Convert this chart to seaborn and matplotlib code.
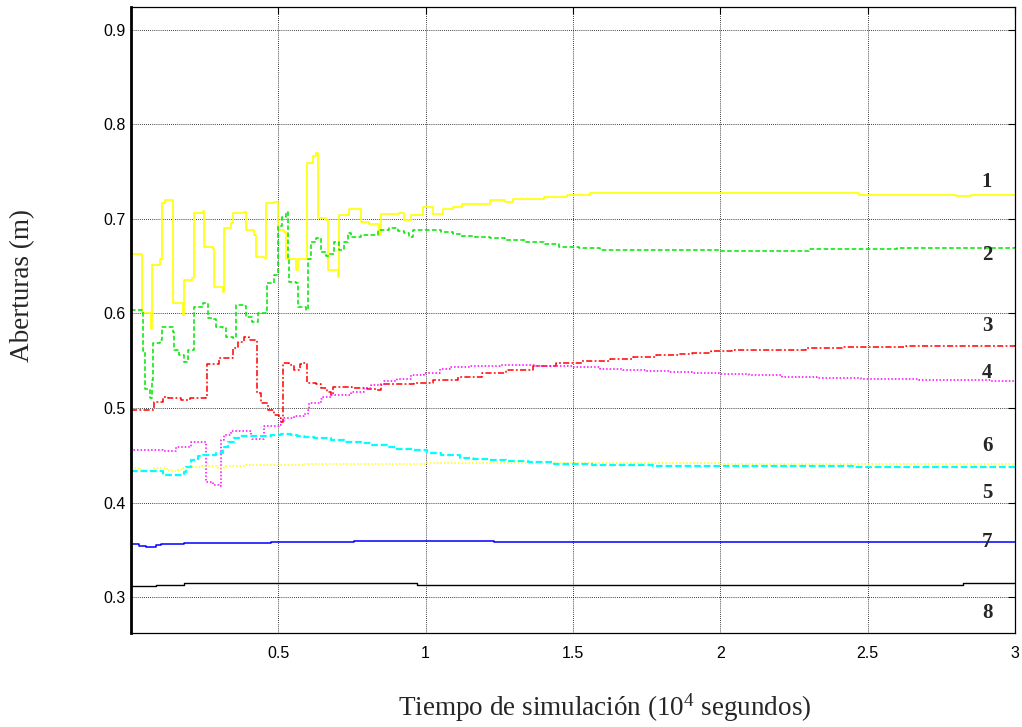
import matplotlib
matplotlib.use("Agg")
import matplotlib.pyplot as plt
import seaborn as sns
import numpy as np

# tiempo en unidades de 10^4 s, aberturas en m
x_1 = [0.000, 0.033, 0.036, 0.068, 0.071, 0.100, 0.106, 0.115, 0.136, 0.142, 0.176, 0.180,
       0.206, 0.213, 0.244, 0.247, 0.278, 0.281, 0.312, 0.315, 0.339, 0.345, 0.383, 0.390,
       0.417, 0.424, 0.451, 0.458, 0.485, 0.498, 0.519, 0.525, 0.559, 0.566, 0.593, 0.597,
       0.617, 0.627, 0.634, 0.661, 0.668, 0.702, 0.705, 0.739, 0.773, 0.780, 0.807, 0.841,
       0.847, 0.908, 0.925, 0.949, 0.976, 0.990, 1.010, 1.024, 1.051, 1.058, 1.092, 1.122,
       1.217, 1.268, 1.298, 1.403, 1.478, 1.556, 1.861, 2.470, 2.800, 2.850, 3.000]
y_1 = [0.663, 0.663, 0.600, 0.583, 0.651, 0.657, 0.717, 0.720, 0.720, 0.611, 0.598, 0.635,
       0.637, 0.706, 0.708, 0.670, 0.668, 0.628, 0.623, 0.690, 0.696, 0.706, 0.707, 0.688,
       0.683, 0.660, 0.659, 0.717, 0.718, 0.688, 0.686, 0.657, 0.646, 0.658, 0.658, 0.759,
       0.766, 0.770, 0.701, 0.699, 0.646, 0.639, 0.704, 0.710, 0.710, 0.697, 0.695, 0.683,
       0.705, 0.706, 0.699, 0.704, 0.704, 0.713, 0.713, 0.705, 0.705, 0.710, 0.713, 0.716,
       0.720, 0.718, 0.721, 0.723, 0.725, 0.727, 0.727, 0.725, 0.724, 0.725, 0.725]

x_2 = [0.000, 0.034, 0.040, 0.048, 0.064, 0.070, 0.075, 0.098, 0.105, 0.142, 0.146, 0.163,
       0.180, 0.193, 0.210, 0.214, 0.244, 0.261, 0.278, 0.288, 0.312, 0.322, 0.346, 0.356,
       0.383, 0.390, 0.410, 0.424, 0.432, 0.451, 0.461, 0.485, 0.498, 0.512, 0.525, 0.532,
       0.536, 0.559, 0.566, 0.593, 0.600, 0.610, 0.627, 0.644, 0.661, 0.671, 0.688, 0.702,
       0.705, 0.722, 0.736, 0.746, 0.780, 0.837, 0.875, 0.905, 0.925, 0.942, 0.956, 1.017,
       1.051, 1.092, 1.115, 1.166, 1.217, 1.268, 1.336, 1.400, 1.454, 1.520, 1.590, 1.800,
       2.000, 2.300, 2.600, 3.000]
y_2 = [0.604, 0.604, 0.560, 0.520, 0.511, 0.530, 0.569, 0.572, 0.586, 0.580, 0.561, 0.556,
       0.549, 0.561, 0.561, 0.607, 0.611, 0.595, 0.594, 0.586, 0.585, 0.575, 0.574, 0.609,
       0.608, 0.596, 0.591, 0.591, 0.600, 0.600, 0.632, 0.641, 0.692, 0.702, 0.707, 0.657,
       0.633, 0.632, 0.607, 0.604, 0.657, 0.675, 0.680, 0.665, 0.661, 0.663, 0.675, 0.675,
       0.667, 0.676, 0.685, 0.681, 0.683, 0.688, 0.690, 0.687, 0.685, 0.681, 0.688, 0.688,
       0.686, 0.684, 0.682, 0.681, 0.680, 0.678, 0.675, 0.673, 0.670, 0.669, 0.667, 0.667,
       0.666, 0.668, 0.669, 0.670]

x_3 = [0.000, 0.071, 0.078, 0.108, 0.125, 0.169, 0.180, 0.200, 0.254, 0.258, 0.298, 0.346,
       0.363, 0.383, 0.400, 0.424, 0.427, 0.441, 0.464, 0.485, 0.502, 0.508, 0.515, 0.536,
       0.552, 0.573, 0.583, 0.593, 0.597, 0.629, 0.644, 0.666, 0.680, 0.685, 0.750, 0.800,
       0.830, 0.848, 0.960, 1.014, 1.025, 1.109, 1.190, 1.274, 1.363, 1.443, 1.499, 1.532,
       1.624, 1.702, 1.783, 1.861, 1.905, 1.969, 2.041, 2.292, 2.414, 2.631, 2.889, 3.000]
y_3 = [0.498, 0.498, 0.506, 0.512, 0.511, 0.508, 0.508, 0.510, 0.512, 0.546, 0.553, 0.563,
       0.570, 0.575, 0.572, 0.572, 0.516, 0.505, 0.498, 0.493, 0.489, 0.485, 0.548, 0.545,
       0.540, 0.546, 0.548, 0.548, 0.526, 0.525, 0.521, 0.517, 0.514, 0.522, 0.521, 0.520,
       0.519, 0.525, 0.526, 0.526, 0.530, 0.533, 0.537, 0.540, 0.544, 0.547, 0.548, 0.550,
       0.552, 0.554, 0.556, 0.557, 0.558, 0.560, 0.561, 0.563, 0.564, 0.565, 0.566, 0.567]

x_4 = [0.000, 0.011, 0.107, 0.110, 0.147, 0.153, 0.198, 0.203, 0.249, 0.254, 0.277, 0.299,
       0.305, 0.316, 0.339, 0.401, 0.407, 0.412, 0.446, 0.452, 0.503, 0.508, 0.520, 0.554,
       0.588, 0.599, 0.605, 0.644, 0.653, 0.678, 0.746, 0.791, 0.814, 0.859, 0.904, 0.949,
       0.994, 1.047, 1.081, 1.149, 1.251, 1.376, 1.499, 1.590, 1.668, 1.749, 1.827, 1.905,
       1.997, 2.098, 2.210, 2.329, 2.478, 2.675, 2.919, 3.000]
y_4 = [0.457, 0.456, 0.456, 0.454, 0.454, 0.459, 0.459, 0.464, 0.464, 0.422, 0.419, 0.417,
       0.466, 0.471, 0.476, 0.476, 0.470, 0.467, 0.467, 0.481, 0.482, 0.486, 0.489, 0.492,
       0.494, 0.498, 0.505, 0.509, 0.512, 0.514, 0.517, 0.521, 0.524, 0.528, 0.531, 0.535,
       0.537, 0.541, 0.543, 0.544, 0.545, 0.544, 0.543, 0.541, 0.540, 0.539, 0.538, 0.537,
       0.536, 0.535, 0.533, 0.532, 0.531, 0.530, 0.529, 0.529]

x_5 = [0.000, 0.034, 0.051, 0.073, 0.079, 0.102, 0.119, 0.130, 0.147, 0.158, 0.169, 0.186,
       0.226, 0.237, 0.282, 0.294, 0.305, 0.316, 0.339, 0.384, 0.565, 0.588, 0.994, 1.006,
       1.500, 2.000, 3.000]
y_5 = [0.436, 0.434, 0.433, 0.433, 0.436, 0.437, 0.435, 0.433, 0.433, 0.434, 0.437, 0.438,
       0.438, 0.439, 0.439, 0.437, 0.437, 0.439, 0.439, 0.440, 0.440, 0.441, 0.441, 0.442,
       0.4415, 0.441, 0.441]

x_6 = [0.000, 0.102, 0.107, 0.169, 0.175, 0.181, 0.186, 0.203, 0.226, 0.243, 0.282, 0.288,
       0.299, 0.311, 0.328, 0.350, 0.367, 0.407, 0.452, 0.475, 0.508, 0.520, 0.542, 0.565,
       0.588, 0.621, 0.678, 0.723, 0.780, 0.814, 0.870, 0.904, 0.960, 1.006, 1.051, 1.115,
       1.159, 1.217, 1.274, 1.346, 1.437, 1.563, 1.770, 2.447, 2.450, 3.000]
y_6 = [0.433, 0.433, 0.429, 0.429, 0.430, 0.432, 0.438, 0.445, 0.449, 0.450, 0.450, 0.452,
       0.452, 0.459, 0.464, 0.468, 0.470, 0.470, 0.470, 0.471, 0.472, 0.472, 0.471, 0.470,
       0.469, 0.468, 0.466, 0.464, 0.463, 0.461, 0.459, 0.457, 0.456, 0.452, 0.450, 0.447,
       0.446, 0.445, 0.444, 0.443, 0.441, 0.440, 0.439, 0.439, 0.438, 0.438]

x_7 = [0.000, 0.028, 0.051, 0.077, 0.085, 0.102, 0.181, 0.328, 0.475, 0.757, 1.232, 3.000]
y_7 = [0.3557, 0.3540, 0.3526, 0.3526, 0.3550, 0.3561, 0.3568, 0.3575, 0.3586, 0.3596,
       0.3586, 0.3586]

x_8 = [0.000, 0.073, 0.085, 0.181, 0.966, 0.972, 2.820, 2.825, 3.000]
y_8 = [0.3116, 0.3116, 0.3127, 0.3144, 0.3144, 0.3127, 0.3127, 0.3144, 0.3144]

etiquetas = ["1", "2", "3", "4", "6", "5", "7", "8"]
etiq_y = [0.739, 0.662, 0.587, 0.537, 0.460, 0.410, 0.358, 0.283]
etiq_x = 2.905

x_ticks = [0.5, 1, 1.5, 2, 2.5, 3]
x_ticklabels = ["0.5", "1", "1.5", "2", "2.5", "3"]
y_ticks = [0.3, 0.4, 0.5, 0.6, 0.7, 0.8, 0.9]
y_ticklabels = ["0.3", "0.4", "0.5", "0.6", "0.7", "0.8", "0.9"]

sns.set_style("white")
plt.rcParams["font.family"] = ["Liberation Sans", "DejaVu Sans"]
plt.rcParams["mathtext.fontset"] = "custom"
plt.rcParams["mathtext.rm"] = "Liberation Serif"

fig = plt.figure(figsize=(10.22, 7.27), dpi=100)
ax = fig.add_axes([131 / 1022, 94 / 727, 884 / 1022, 626 / 727])

series = [
    (x_1, y_1, "#ffff00", "-", None, 1.2),
    (x_2, y_2, "#00e600", "--", (3, 1.6), 1.1),
    (x_3, y_3, "#ff0000", "-.", (4, 1.5, 1.2, 1.5), 1.1),
    (x_4, y_4, "#ff00ff", ":", (1, 1.3), 1.1),
    (x_5, y_5, "#ffff00", ":", (1, 1.3), 1.1),
    (x_6, y_6, "#00ffff", "--", (3, 1.3), 1.6),
    (x_7, y_7, "#0000ff", "-", None, 1.1),
    (x_8, y_8, "#000000", "-", None, 1.0),
]

# salida escalonada, como en la simulación
for xs, ys, col, ls, dash, lw in series:
    kw = dict(color=col, linewidth=lw, drawstyle="steps-post")
    if dash is not None:
        kw["dashes"] = dash
    else:
        kw["linestyle"] = ls
    sns.lineplot(x=xs, y=ys, ax=ax, estimator=None, sort=False, **kw)

ax.set_xlim(0, 3)
ax.set_ylim(0.262, 0.924)
ax.set_xticks(x_ticks)
ax.set_xticklabels(x_ticklabels)
ax.set_yticks(y_ticks)
ax.set_yticklabels(y_ticklabels)
ax.grid(True, color="black", linestyle=(0, (1, 1.5)), linewidth=0.6)
ax.tick_params(direction="in", length=5, width=0.8, top=True, right=True,
               labelsize=11.5, colors="black")
ax.tick_params(axis="x", pad=9)
ax.tick_params(axis="y", pad=4)

for side, sp in ax.spines.items():
    sp.set_visible(True)
    sp.set_color("black")
    sp.set_linewidth(0.9)
ax.spines["left"].set_linewidth(2.0)

for lab, yy in zip(etiquetas, etiq_y):
    ax.text(etiq_x, yy, lab, ha="center", va="center", fontsize=15,
            fontweight="bold", family=["Liberation Serif", "DejaVu Serif"])

fig.text(605 / 1022, 1 - 708 / 727,
         r"Tiempo de simulación ($\mathregular{10^4}$ segundos)",
         ha="center", va="center", fontsize=19.5,
         family=["Liberation Serif", "DejaVu Serif"])
fig.text(23 / 1022, 1 - 285 / 727, "Aberturas (m)", rotation=90,
         ha="center", va="center", fontsize=19.5,
         family=["Liberation Serif", "DejaVu Serif"])

fig.savefig("out.png", dpi=100)
